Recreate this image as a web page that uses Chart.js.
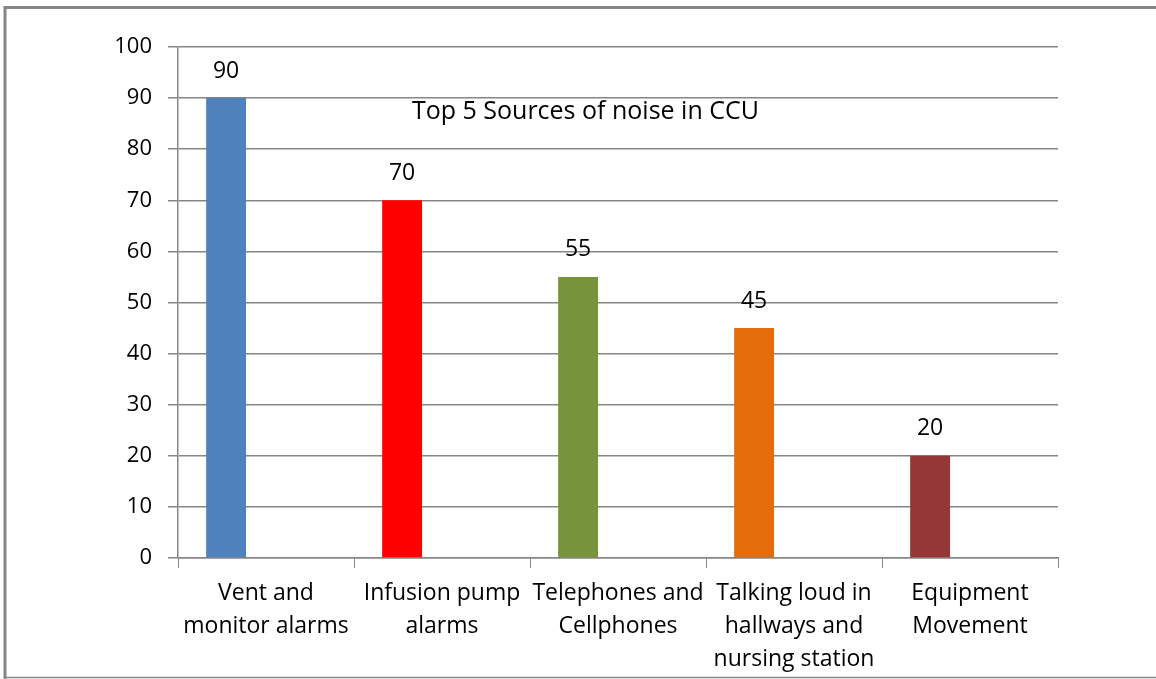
<!DOCTYPE html>
<html>
<head>
<meta charset="utf-8">
<script src="https://cdn.jsdelivr.net/npm/chart.js@4.4.0/dist/chart.umd.min.js"></script>
<style>
  html, body { margin: 0; padding: 0; background: #fff; }
  #wrap { width: 1156px; height: 679px; }
</style>
</head>
<body>
<div id="wrap"><canvas id="noiseChart" width="1156" height="679"></canvas></div>
<script>
// chart data
const categories = [
  ['Vent and', 'monitor alarms'],
  ['Infusion pump', 'alarms'],
  ['Telephones and', 'Cellphones'],
  ['Talking loud in', 'hallways and', 'nursing station'],
  ['Equipment', 'Movement']
];
const noiseScores = [90, 70, 55, 45, 20];
const barColors = ['#4F81BD', '#FF0000', '#77933C', '#E46C0A', '#953735'];
const yTicks = [0, 10, 20, 30, 40, 50, 60, 70, 80, 90, 100];
const chartTitle = 'Top 5 Sources of noise in CCU';

const FONT = '"Open Sans", "Noto Sans", sans-serif';
const GRID = '#868686';

// frame around the whole picture
const framePlugin = {
  id: 'frame',
  beforeDraw(chart) {
    const ctx = chart.ctx;
    ctx.save();
    ctx.fillStyle = '#fff';
    ctx.fillRect(0, 0, chart.width, chart.height);
    ctx.strokeStyle = GRID;
    ctx.lineWidth = 3;
    ctx.beginPath();
    ctx.moveTo(5, 679);
    ctx.lineTo(5, 7.5);
    ctx.lineTo(1156, 7.5);
    ctx.stroke();
    ctx.lineWidth = 1.5;
    ctx.beginPath();
    ctx.moveTo(5, 677.5);
    ctx.lineTo(1156, 677.5);
    ctx.stroke();
    ctx.restore();
  }
};

// value labels above bars + title inside plot
const labelPlugin = {
  id: 'labels',
  afterDatasetsDraw(chart) {
    const ctx = chart.ctx;
    const meta = chart.getDatasetMeta(0);
    ctx.save();
    ctx.font = '23px ' + FONT;
    ctx.fillStyle = '#000';
    ctx.textAlign = 'center';
    ctx.textBaseline = 'middle';
    meta.data.forEach((bar, i) => {
      ctx.fillText(String(noiseScores[i]), bar.x, bar.y - 27);
    });
    const area = chart.chartArea;
    ctx.font = '25px ' + FONT;
    ctx.fillText(chartTitle, area.left + (area.right - area.left) * 0.463, chart.scales.y.getPixelForValue(87.4));
    ctx.restore();
  }
};

const emptySeries = categories.map(() => null);

new Chart(document.getElementById('noiseChart'), {
  type: 'bar',
  data: {
    labels: categories,
    datasets: [
      { data: noiseScores, backgroundColor: barColors, borderWidth: 0 },
      { data: emptySeries },
      { data: emptySeries }
    ]
  },
  options: {
    responsive: false,
    animation: false,
    devicePixelRatio: 1,
    layout: { padding: { left: 0, right: 98, top: 47, bottom: 0 } },
    datasets: { bar: { categoryPercentage: 0.68, barPercentage: 1 } },
    plugins: {
      legend: { display: false },
      title: { display: false },
      tooltip: { enabled: false }
    },
    scales: {
      x: {
        offset: true,
        grid: { display: true, drawOnChartArea: false, color: GRID, tickLength: 10, offset: true },
        border: { color: GRID, width: 1.5 },
        ticks: {
          color: '#000',
          font: { family: FONT, size: 23, lineHeight: 1.43 },
          padding: 9,
          maxRotation: 0,
          autoSkip: false
        },
        afterFit(scale) { scale.height = 679 - 558; }
      },
      y: {
        min: 0,
        max: 100,
        afterBuildTicks(scale) { scale.ticks = yTicks.map(v => ({ value: v })); },
        grid: { color: GRID, lineWidth: 1.5, tickLength: 10 },
        border: { color: GRID, width: 1.5 },
        ticks: {
          color: '#000',
          font: { family: FONT, size: 22 },
          padding: 16
        },
        afterFit(scale) { scale.width = 178; }
      }
    }
  },
  plugins: [framePlugin, labelPlugin]
});
</script>
</body>
</html>
